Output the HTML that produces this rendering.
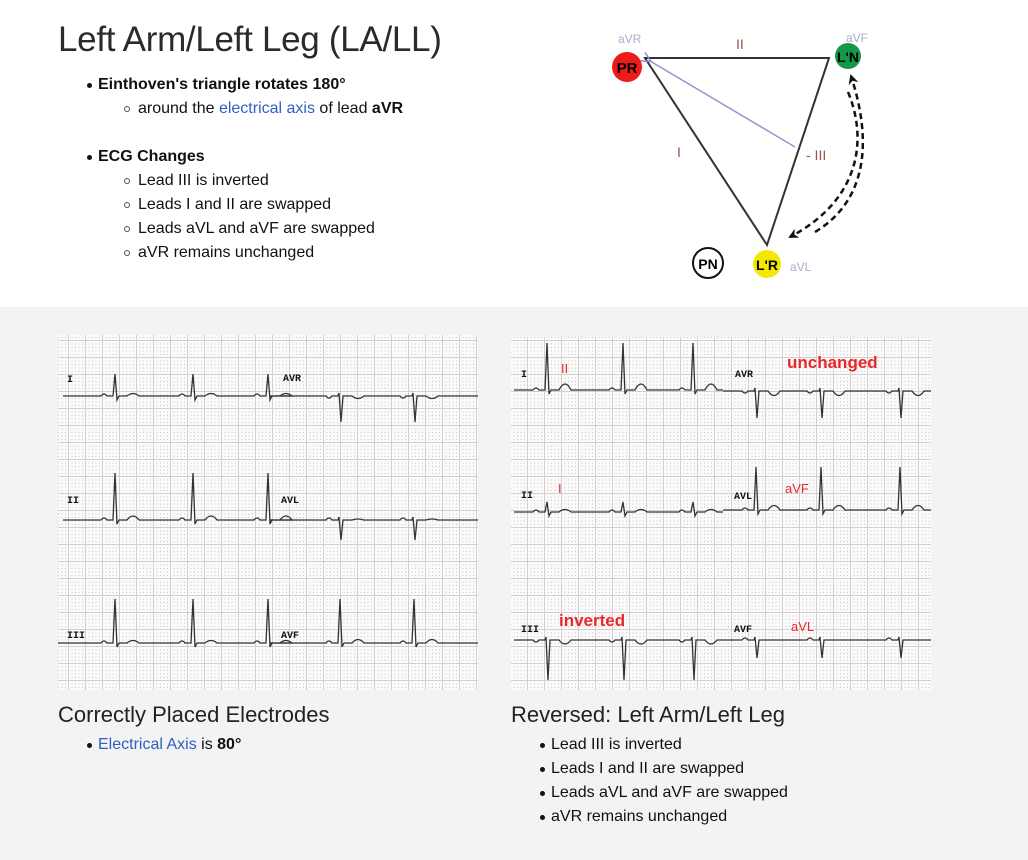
<!DOCTYPE html>
<html><head><meta charset="utf-8">
<style>
html,body{margin:0;padding:0;width:1028px;height:860px;overflow:hidden;font-family:"Liberation Sans",sans-serif;color:#111;}
.top{position:absolute;left:0;top:0;width:1028px;height:307px;background:#fff;}
.bot{position:absolute;left:0;top:307px;width:1028px;height:553px;background:#f3f3f3;}
.t{position:absolute;white-space:nowrap;}
a{color:#2d5fc4;text-decoration:none}
.dot{position:absolute;width:5px;height:5px;border-radius:50%;background:#111;}
.circ{position:absolute;width:6px;height:6px;border-radius:50%;border:1px solid #555;box-sizing:border-box;}
</style></head><body>
<div class="top"></div>
<div class="bot"></div>

<div class="t" style="left:58px;top:20px;font-size:35px;color:#2a2a2a;letter-spacing:-0.3px">Left Arm/Left Leg (LA/LL)</div>

<div class="dot" style="left:87px;top:83px"></div>
<div class="t" style="left:98px;top:76px;font-size:16px;font-weight:bold">Einthoven's triangle rotates 180°</div>
<div class="circ" style="left:124px;top:106px"></div>
<div class="t" style="left:138px;top:100px;font-size:16px">around the <a>electrical axis</a> of lead <b>aVR</b></div>

<div class="dot" style="left:87px;top:155px"></div>
<div class="t" style="left:98px;top:148px;font-size:16px;font-weight:bold">ECG Changes</div>
<div class="circ" style="left:124px;top:178px"></div>
<div class="t" style="left:138px;top:172px;font-size:16px">Lead III is inverted</div>
<div class="circ" style="left:124px;top:202px"></div>
<div class="t" style="left:138px;top:196px;font-size:16px">Leads I and II are swapped</div>
<div class="circ" style="left:124px;top:226px"></div>
<div class="t" style="left:138px;top:220px;font-size:16px">Leads aVL and aVF are swapped</div>
<div class="circ" style="left:124px;top:250px"></div>
<div class="t" style="left:138px;top:244px;font-size:16px">aVR remains unchanged</div>

<svg style="position:absolute;left:0;top:0" width="1028" height="860">
<defs>
<marker id="ah" markerWidth="10" markerHeight="10" refX="8" refY="5" orient="auto" markerUnits="userSpaceOnUse"><path d="M0,0 L10,5 L0,10 L3,5z" fill="#111"/></marker>
<marker id="ap" markerWidth="10" markerHeight="10" refX="1" refY="5" orient="auto" markerUnits="userSpaceOnUse"><path d="M10,0 L0,5 L10,10" fill="none" stroke="#8f86c8" stroke-width="1.5"/></marker>
<pattern id="g" width="17" height="17" patternUnits="userSpaceOnUse">
<rect width="17" height="17" fill="#fbfbfb"/>
<path d="M0,0.5H17M0.5,0V17" stroke="#d8cccc" stroke-width="1"/>
<g fill="#cfc6c6"><circle cx="4" cy="4" r=".6"/><circle cx="7.5" cy="4" r=".6"/><circle cx="11" cy="4" r=".6"/><circle cx="14.5" cy="4" r=".6"/>
<circle cx="4" cy="7.5" r=".6"/><circle cx="7.5" cy="7.5" r=".6"/><circle cx="11" cy="7.5" r=".6"/><circle cx="14.5" cy="7.5" r=".6"/>
<circle cx="4" cy="11" r=".6"/><circle cx="7.5" cy="11" r=".6"/><circle cx="11" cy="11" r=".6"/><circle cx="14.5" cy="11" r=".6"/>
<circle cx="4" cy="14.5" r=".6"/><circle cx="7.5" cy="14.5" r=".6"/><circle cx="11" cy="14.5" r=".6"/><circle cx="14.5" cy="14.5" r=".6"/></g>
</pattern>
</defs>
<path d="M645,58 L829,58 L767,245 Z" fill="none" stroke="#333" stroke-width="2"/>
<line x1="795" y1="147" x2="650" y2="61" stroke="#9a92cc" stroke-width="1.5" marker-end="url(#ap)"/>
<path d="M848,92 C868,140 860,200 790,237" fill="none" stroke="#111" stroke-width="2.5" stroke-dasharray="6,4" marker-end="url(#ah)"/>
<path d="M815,232 C868,200 872,140 851,76" fill="none" stroke="#111" stroke-width="2.5" stroke-dasharray="6,4" marker-end="url(#ah)"/>
<circle cx="627" cy="67" r="15" fill="#ee1b1b"/>
<text x="627" y="73" font-size="15" font-weight="bold" text-anchor="middle" font-family="Liberation Sans">PR</text>
<circle cx="848" cy="56" r="13" fill="#129a4a"/>
<text x="848" y="62" font-size="14" font-weight="bold" text-anchor="middle" font-family="Liberation Sans">L'N</text>
<circle cx="767" cy="264" r="14" fill="#f5e800"/>
<text x="767" y="270" font-size="14" font-weight="bold" text-anchor="middle" font-family="Liberation Sans">L'R</text>
<circle cx="708" cy="263" r="15" fill="#fff" stroke="#111" stroke-width="2"/>
<text x="708" y="269" font-size="14" font-weight="bold" text-anchor="middle" font-family="Liberation Sans">PN</text>
<g font-family="Liberation Sans" font-size="12" fill="#b0a8c8"><text x="618" y="43">aVR</text><text x="846" y="42">aVF</text><text x="790" y="271">aVL</text></g>
<g font-family="Liberation Sans" font-size="14" fill="#9b5050"><text x="736" y="49">II</text><text x="677" y="157">I</text><text x="806" y="160">- III</text></g>

<rect x="58" y="335" width="420" height="355" fill="url(#g)"/>
<rect x="511" y="337" width="420" height="353" fill="url(#g)"/>
<g id="traces" fill="none" stroke="#333" stroke-width="1.3"></g>
<g font-family="Liberation Mono" font-size="10" font-weight="bold" fill="#111">
<text x="67" y="382">I</text><text x="283" y="381">AVR</text>
<text x="67" y="503">II</text><text x="281" y="503">AVL</text>
<text x="67" y="638">III</text><text x="281" y="638">AVF</text>
<text x="521" y="377">I</text><text x="735" y="377">AVR</text>
<text x="521" y="498">II</text><text x="734" y="499">AVL</text>
<text x="521" y="632">III</text><text x="734" y="632">AVF</text>
</g>
<g font-family="Liberation Sans" fill="#e8282a">
<text x="561" y="373" font-size="13">II</text>
<text x="558" y="493" font-size="13">I</text>
<text x="787" y="368" font-size="17" font-weight="bold">unchanged</text>
<text x="785" y="493" font-size="13">aVF</text>
<text x="559" y="626" font-size="17" font-weight="bold">inverted</text>
<text x="791" y="631" font-size="13">aVL</text>
</g>
</svg>

<div class="t" style="left:58px;top:702px;font-size:22px;color:#222">Correctly Placed Electrodes</div>
<div class="dot" style="left:87px;top:743px"></div>
<div class="t" style="left:98px;top:736px;font-size:16px"><a>Electrical Axis</a> is <b>80°</b></div>

<div class="t" style="left:511px;top:702px;font-size:22px;color:#222">Reversed: Left Arm/Left Leg</div>
<div class="dot" style="left:540px;top:743px"></div>
<div class="t" style="left:551px;top:736px;font-size:16px">Lead III is inverted</div>
<div class="dot" style="left:540px;top:767px"></div>
<div class="t" style="left:551px;top:760px;font-size:16px">Leads I and II are swapped</div>
<div class="dot" style="left:540px;top:791px"></div>
<div class="t" style="left:551px;top:784px;font-size:16px">Leads aVL and aVF are swapped</div>
<div class="dot" style="left:540px;top:815px"></div>
<div class="t" style="left:551px;top:808px;font-size:16px">aVR remains unchanged</div>

<script>
function seg(x0,x1,y,beats,amp,t){
  var d="M"+x0+","+y;
  beats.forEach(function(b){
    if(b<x0||b>x1)return;
    d+=" L"+(b-14)+","+y+" Q"+(b-11)+","+(y-4*Math.sign(t||1))+" "+(b-8)+","+y+" L"+(b-2)+","+y;
    if(amp<0){d+=" L"+b+","+(y+amp)+" L"+(b+2)+","+(y+4)+" L"+(b+4)+","+y;}
    else{d+=" L"+(b-1)+","+(y-3)+" L"+(b+1)+","+(y+amp)+" L"+(b+3)+","+y;}
    d+=" L"+(b+12)+","+y+" Q"+(b+18)+","+(y-t)+" "+(b+24)+","+y;
  });
  d+=" L"+x1+","+y;
  var p=document.createElementNS("http://www.w3.org/2000/svg","path");
  p.setAttribute("d",d);document.getElementById("traces").appendChild(p);
}
var L=[115,193,268,340,414],R=[547,623,693,756,821,900];
seg(63,270,396,L,-22,5); seg(270,478,396,L,26,-5);
seg(63,270,520,L,-47,8); seg(270,478,520,L,20,2);
seg(58,270,643,L,-44,5); seg(270,478,643,L,-44,7);
seg(514,723,390,R,-47,12); seg(723,931,391,R,27,-9);
seg(514,723,512,R,-10,5); seg(723,931,510,R,-43,9);
seg(514,723,640,R,40,-8); seg(723,931,640,R,18,0);
</script>
</body></html>
